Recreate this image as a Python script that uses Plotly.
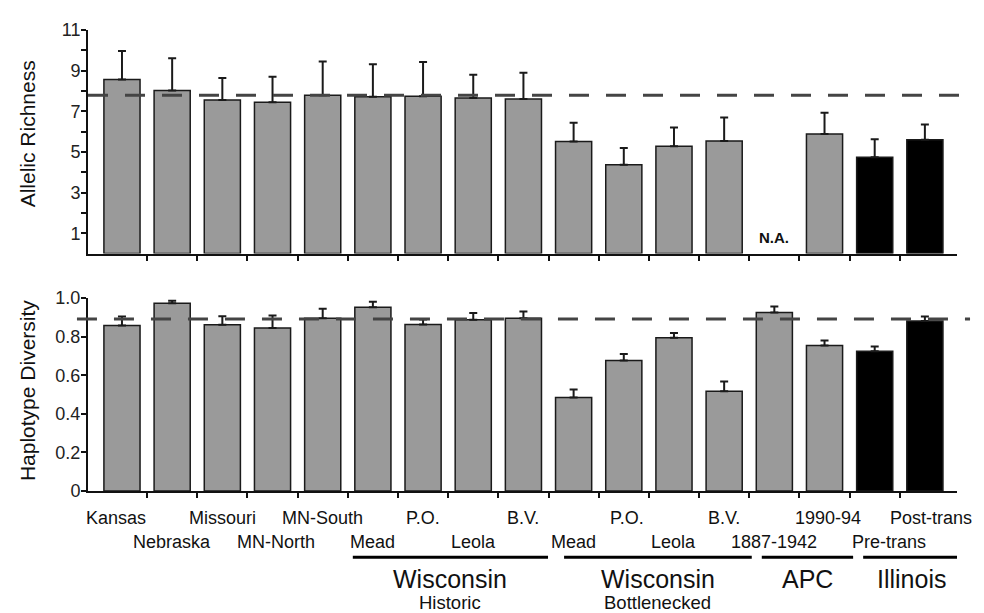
import plotly.graph_objects as go

# ---------------- data ----------------
categories = ["Kansas", "Nebraska", "Missouri", "MN-North", "MN-South",
              "Mead", "P.O.", "Leola", "B.V.",
              "Mead", "P.O.", "Leola", "B.V.",
              "1887-1942", "1990-94", "Pre-trans", "Post-trans"]
allelic_richness = [8.56, 8.02, 7.55, 7.44, 7.79, 7.71, 7.74, 7.66, 7.61,
                    5.52, 4.37, 5.28, 5.54, None, 5.88, 4.74, 5.60]
allelic_err = [1.41, 1.59, 1.09, 1.26, 1.66, 1.61, 1.68, 1.14, 1.29,
               0.92, 0.82, 0.92, 1.15, None, 1.05, 0.88, 0.75]
haplotype_div = [0.858, 0.973, 0.862, 0.845, 0.896, 0.952, 0.863, 0.887, 0.896,
                 0.485, 0.676, 0.794, 0.517, 0.925, 0.754, 0.725, 0.881]
haplotype_err = [0.046, 0.013, 0.044, 0.065, 0.048, 0.029, 0.026, 0.035, 0.034,
                 0.041, 0.034, 0.025, 0.051, 0.031, 0.026, 0.024, 0.023]
is_illinois = [False] * 15 + [True, True]
allelic_ref = 7.79
haplotype_ref = 0.892

group_names = ["Wisconsin", "Wisconsin", "APC", "Illinois"]
group_subtitles = ["Historic", "Bottlenecked", "", ""]
group_first = [5, 9, 13, 15]
group_last = [8, 12, 14, 16]

ar_tickvals = [1, 2, 3, 4, 5, 6, 7, 8, 9, 10, 11]
ar_ticktext = ["1", "", "3", "", "5", "", "7", "", "9", "", "11"]
hd_tickvals = [0, 0.2, 0.4, 0.6, 0.8, 1.0]
hd_ticktext = ["0", "0.2", "0.4", "0.6", "0.8", "1.0"]

# ---------------- styling ----------------
FONT = "Liberation Sans, Arial, sans-serif"
GRAY = "#9a9a9a"
xpos = list(range(len(categories)))
colors = ["#000000" if b else GRAY for b in is_illinois]

PLOT_H = 466  # plot-area height in px (used to convert px offsets to paper units)
PLOT_W = 869

fig = go.Figure()

err_style = dict(type="data", symmetric=False, thickness=2, width=4, color="#1a1a1a")

fig.add_trace(go.Bar(
    x=xpos, y=allelic_richness, width=0.72,
    marker=dict(color=colors, line=dict(color="#1a1a1a", width=1.5)),
    error_y=dict(array=allelic_err, arrayminus=[0] * len(xpos), **err_style),
    xaxis="x", yaxis="y", showlegend=False, cliponaxis=False))

fig.add_trace(go.Bar(
    x=xpos, y=haplotype_div, width=0.72,
    marker=dict(color=colors, line=dict(color="#1a1a1a", width=1.5)),
    error_y=dict(array=haplotype_err, arrayminus=[0] * len(xpos), **err_style),
    xaxis="x2", yaxis="y2", showlegend=False, cliponaxis=False))

xrange = [-0.677, 16.64]
boundaries = [i + 0.5 for i in range(len(categories) - 1)]
xax = dict(range=xrange, tickvals=boundaries, ticktext=[""] * len(boundaries),
           ticks="outside", ticklen=5, tickwidth=1.5, tickcolor="#111",
           showline=True, linecolor="#111", linewidth=2, showgrid=False,
           zeroline=False, showticklabels=False, fixedrange=True)
yax = dict(ticks="outside", ticklen=5, tickwidth=1.5, tickcolor="#111",
           showline=True, linecolor="#111", linewidth=2, showgrid=False,
           zeroline=False, ticklabelstandoff=-3,
           tickfont=dict(size=18, color="#222", family=FONT))

# page body has an 8px margin, so the figure is offset by 8px
fig.update_layout(
    width=976, height=605,
    margin=dict(l=80, r=27, t=17, b=122),
    paper_bgcolor="white", plot_bgcolor="white",
    font=dict(family=FONT, color="#111"),
    xaxis=dict(domain=[0, 1], anchor="y", **xax),
    xaxis2=dict(domain=[0, 1], anchor="y2", **xax),
    yaxis=dict(domain=[0.515, 1], range=[0, 11], tickvals=ar_tickvals,
               ticktext=ar_ticktext, anchor="x", **yax),
    yaxis2=dict(domain=[0, 0.4185], range=[0, 1.0], tickvals=hd_tickvals,
                ticktext=hd_ticktext, anchor="x2", **yax),
)

shapes = []
# dashed reference lines
shapes.append(dict(type="line", xref="paper", yref="y", x0=0, x1=1.007,
                   y0=allelic_ref, y1=allelic_ref, layer="above",
                   line=dict(color="#444", width=3, dash="20px,17px")))
shapes.append(dict(type="line", xref="paper", yref="y2", x0=-0.0127, x1=1.015,
                   y0=haplotype_ref, y1=haplotype_ref, layer="above",
                   line=dict(color="#444", width=3, dash="20px,17px")))

# group underlines (extents in category units)
line_pad_left = [0.40, 0.19, 0.25, 0.23]
line_pad_right = [0.49, 0.55, 0.57, 0.70]
annotations = []
for gi, name in enumerate(group_names):
    x0 = group_first[gi] - line_pad_left[gi]
    x1 = group_last[gi] + line_pad_right[gi]
    shapes.append(dict(type="line", xref="x2", yref="paper", x0=x0, x1=x1,
                       y0=-67 / PLOT_H, y1=-67 / PLOT_H,
                       line=dict(color="#000", width=3)))
    xc = (x0 + x1) / 2
    annotations.append(dict(x=xc, y=0, xref="x2", yref="paper", yshift=-88,
                            text=name, showarrow=False, xanchor="center",
                            yanchor="middle", font=dict(size=25, color="#111", family=FONT)))
    if group_subtitles[gi]:
        annotations.append(dict(x=xc, y=0, xref="x2", yref="paper", yshift=-111,
                                text=group_subtitles[gi], showarrow=False,
                                xanchor="center", yanchor="middle",
                                font=dict(size=18.5, color="#111", family=FONT)))

# category labels (staggered rows)
label_xshift = {0: -6, 3: 3, 10: 3, 14: 3, 15: 14, 16: 6}
for i, lab in enumerate(categories):
    shift = -27 if i % 2 == 0 else -51
    annotations.append(dict(x=i, y=0, xref="x2", yref="paper", yshift=shift,
                            xshift=label_xshift.get(i, 0),
                            text=lab, showarrow=False, xanchor="center", yanchor="middle",
                            font=dict(size=18, color="#111", family=FONT)))

# N.A. marker for missing value
for i, v in enumerate(allelic_richness):
    if v is None:
        annotations.append(dict(x=i, y=0.8, xref="x", yref="y", text="<b>N.A.</b>",
                                showarrow=False, xanchor="center", yanchor="middle",
                                font=dict(size=15, color="#111", family=FONT)))

# y-axis titles
annotations.append(dict(x=-61 / PLOT_W, y=(491 - 130.5) / PLOT_H, xref="paper", yref="paper",
                        text="Allelic Richness", textangle=-90, showarrow=False,
                        xanchor="center", yanchor="middle",
                        font=dict(size=21, color="#111", family=FONT)))
annotations.append(dict(x=-61 / PLOT_W, y=(491 - 390) / PLOT_H, xref="paper", yref="paper",
                        text="Haplotype Diversity", textangle=-90, showarrow=False,
                        xanchor="center", yanchor="middle",
                        font=dict(size=21, color="#111", family=FONT)))

fig.update_layout(shapes=shapes, annotations=annotations)

fig.write_html("out.html")
